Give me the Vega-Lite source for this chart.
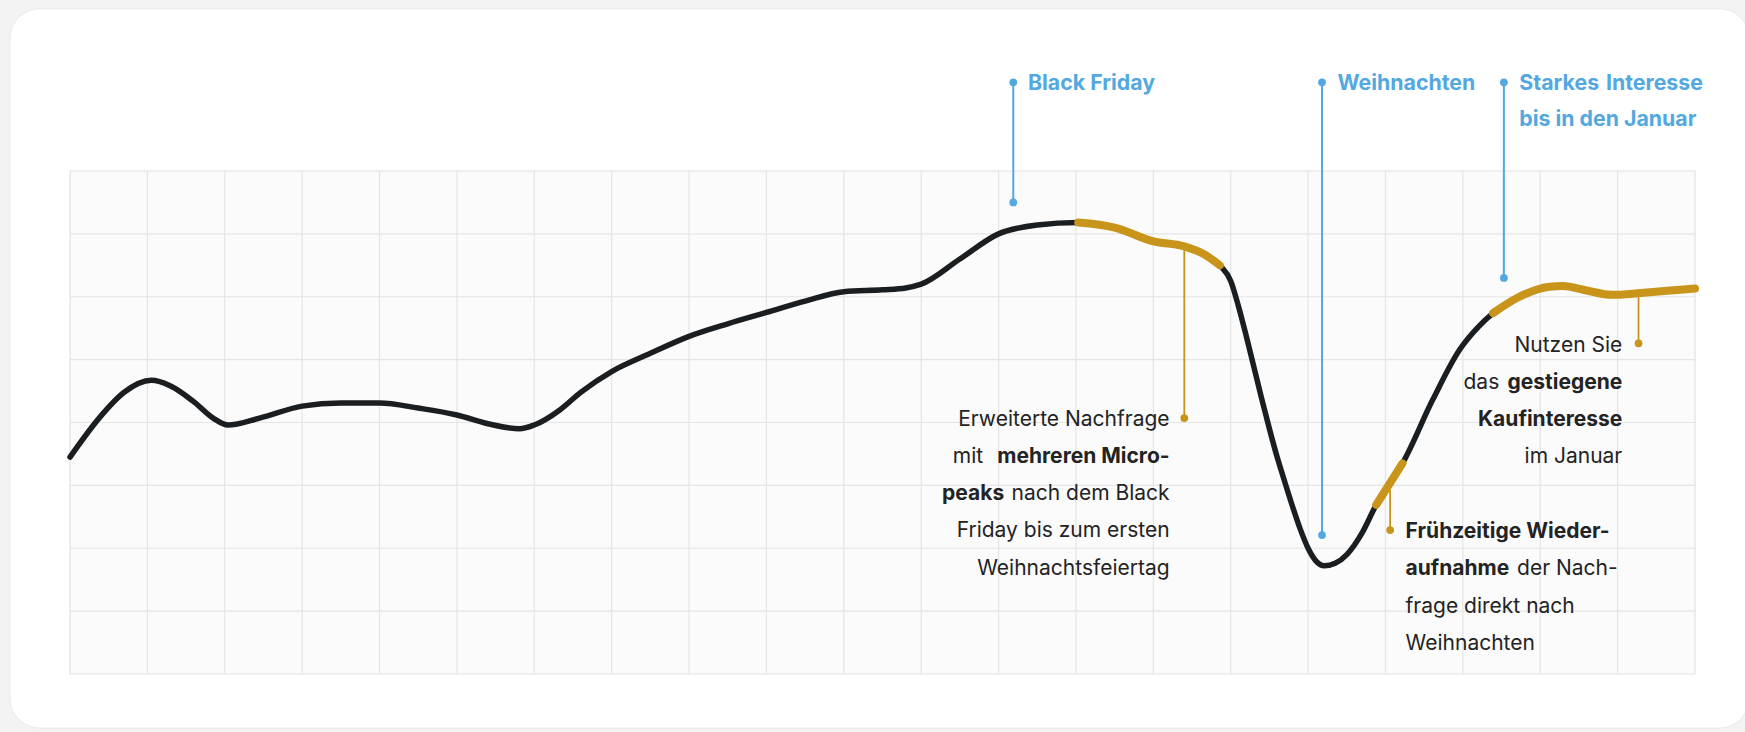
{
  "$schema": "https://vega.github.io/schema/vega-lite/v6.json",
  "width": 1625,
  "height": 503,
  "autosize": "none",
  "padding": {"left": 70, "top": 171, "right": 50, "bottom": 58},
  "background": "#f3f3f3",
  "config": {"view": {"stroke": null}, "font": "Inter"},
  "datasets": {
    "curve": [
      {"t": 0.0, "v": 3.45, "phase": null},
      {"t": 0.39, "v": 4.09, "phase": null},
      {"t": 0.7, "v": 4.48, "phase": null},
      {"t": 1.05, "v": 4.67, "phase": null},
      {"t": 1.3, "v": 4.58, "phase": null},
      {"t": 1.59, "v": 4.34, "phase": null},
      {"t": 1.85, "v": 4.07, "phase": null},
      {"t": 2.04, "v": 3.96, "phase": null},
      {"t": 2.45, "v": 4.07, "phase": null},
      {"t": 3.0, "v": 4.26, "phase": null},
      {"t": 3.5, "v": 4.31, "phase": null},
      {"t": 4.0, "v": 4.31, "phase": null},
      {"t": 4.5, "v": 4.23, "phase": null},
      {"t": 5.0, "v": 4.12, "phase": null},
      {"t": 5.4, "v": 3.98, "phase": null},
      {"t": 5.81, "v": 3.9, "phase": null},
      {"t": 6.0, "v": 3.96, "phase": null},
      {"t": 6.33, "v": 4.2, "phase": null},
      {"t": 6.6, "v": 4.48, "phase": null},
      {"t": 7.0, "v": 4.81, "phase": null},
      {"t": 7.5, "v": 5.1, "phase": null},
      {"t": 8.0, "v": 5.37, "phase": null},
      {"t": 8.5, "v": 5.57, "phase": null},
      {"t": 9.0, "v": 5.75, "phase": null},
      {"t": 9.5, "v": 5.93, "phase": null},
      {"t": 10.0, "v": 6.08, "phase": null},
      {"t": 10.5, "v": 6.11, "phase": null},
      {"t": 10.8, "v": 6.14, "phase": null},
      {"t": 11.0, "v": 6.2, "phase": null},
      {"t": 11.5, "v": 6.6, "phase": null},
      {"t": 12.0, "v": 7.0, "phase": null},
      {"t": 12.5, "v": 7.14, "phase": null},
      {"t": 13.03, "v": 7.18, "phase": "nachfrage"},
      {"t": 13.5, "v": 7.1, "phase": "nachfrage"},
      {"t": 14.0, "v": 6.88, "phase": "nachfrage"},
      {"t": 14.4, "v": 6.8, "phase": "nachfrage"},
      {"t": 14.65, "v": 6.68, "phase": "nachfrage"},
      {"t": 14.86, "v": 6.5, "phase": "nachfrage"},
      {"t": 15.0, "v": 6.25, "phase": null},
      {"t": 15.1, "v": 5.85, "phase": null},
      {"t": 15.2, "v": 5.38, "phase": null},
      {"t": 15.3, "v": 4.88, "phase": null},
      {"t": 15.4, "v": 4.38, "phase": null},
      {"t": 15.5, "v": 3.9, "phase": null},
      {"t": 15.6, "v": 3.45, "phase": null},
      {"t": 15.7, "v": 3.05, "phase": null},
      {"t": 15.8, "v": 2.66, "phase": null},
      {"t": 15.9, "v": 2.3, "phase": null},
      {"t": 16.0, "v": 2.0, "phase": null},
      {"t": 16.1, "v": 1.8, "phase": null},
      {"t": 16.21, "v": 1.72, "phase": null},
      {"t": 16.35, "v": 1.76, "phase": null},
      {"t": 16.5, "v": 1.9, "phase": null},
      {"t": 16.7, "v": 2.25, "phase": null},
      {"t": 16.88, "v": 2.69, "phase": "wiederaufnahme"},
      {"t": 17.05, "v": 3.02, "phase": "wiederaufnahme"},
      {"t": 17.22, "v": 3.35, "phase": "wiederaufnahme"},
      {"t": 17.61, "v": 4.36, "phase": null},
      {"t": 17.96, "v": 5.16, "phase": null},
      {"t": 18.2, "v": 5.52, "phase": null},
      {"t": 18.39, "v": 5.74, "phase": "januar"},
      {"t": 18.7, "v": 5.98, "phase": "januar"},
      {"t": 19.12, "v": 6.16, "phase": "januar"},
      {"t": 19.29, "v": 6.17, "phase": "januar"},
      {"t": 19.6, "v": 6.1, "phase": "januar"},
      {"t": 19.92, "v": 6.03, "phase": "januar"},
      {"t": 20.3, "v": 6.06, "phase": "januar"},
      {"t": 20.6, "v": 6.09, "phase": "januar"},
      {"t": 21.0, "v": 6.13, "phase": "januar"}
    ],
    "cols": [{"t": 1}, {"t": 2}, {"t": 3}, {"t": 4}, {"t": 5}, {"t": 6}, {"t": 7}, {"t": 8}, {"t": 9}, {"t": 10}, {"t": 11}, {"t": 12}, {"t": 13}, {"t": 14}, {"t": 15}, {"t": 16}, {"t": 17}, {"t": 18}, {"t": 19}, {"t": 20}],
    "rows": [{"v": 1}, {"v": 2}, {"v": 3}, {"v": 4}, {"v": 5}, {"v": 6}, {"v": 7}],
    "events": [
      {"event": "Black Friday", "t": 12.19, "top": 9.41, "end": 7.5},
      {"event": "Weihnachten", "t": 16.18, "top": 9.41, "end": 2.21},
      {"event": "Starkes Interesse bis in den Januar", "t": 18.53, "top": 9.41, "end": 6.3}
    ],
    "eventLabels": [
      {"text": "Black Friday", "t": 12.38, "v": 9.29},
      {"text": "Weihnachten", "t": 16.38, "v": 9.29},
      {"text": "Starkes", "t": 18.73, "v": 9.29},
      {"text": "Interesse", "t": 19.85, "v": 9.29},
      {"text": "bis in den Januar", "t": 18.73, "v": 8.71}
    ],
    "callouts": [
      {"phase": "nachfrage", "t": 14.4, "from": 6.8, "to": 4.07},
      {"phase": "wiederaufnahme", "t": 17.06, "from": 2.93, "to": 2.29},
      {"phase": "januar", "t": 20.27, "from": 6.07, "to": 5.26}
    ],
    "notes": [
      {"text": "Erweiterte Nachfrage", "t": 14.21, "v": 3.946, "kind": "plain", "anchor": "end"},
      {"text": "mit", "t": 11.8, "v": 3.357, "kind": "plain", "anchor": "end"},
      {"text": "mehreren Micro-", "t": 14.21, "v": 3.357, "kind": "strong", "anchor": "end"},
      {"text": "peaks", "t": 11.27, "v": 2.768, "kind": "strong", "anchor": "start"},
      {"text": "nach dem Black", "t": 14.21, "v": 2.768, "kind": "plain", "anchor": "end"},
      {"text": "Friday bis zum ersten", "t": 14.21, "v": 2.18, "kind": "plain", "anchor": "end"},
      {"text": "Weihnachtsfeiertag", "t": 14.21, "v": 1.575, "kind": "plain", "anchor": "end"},
      {"text": "Nutzen Sie", "t": 20.06, "v": 5.128, "kind": "plain", "anchor": "end"},
      {"text": "das", "t": 18.47, "v": 4.53, "kind": "plain", "anchor": "end"},
      {"text": "gestiegene", "t": 20.06, "v": 4.53, "kind": "strong", "anchor": "end"},
      {"text": "Kaufinteresse", "t": 20.06, "v": 3.946, "kind": "strong", "anchor": "end"},
      {"text": "im Januar", "t": 20.06, "v": 3.35, "kind": "plain", "anchor": "end"},
      {"text": "Frühzeitige Wieder-", "t": 17.26, "v": 2.159, "kind": "strong", "anchor": "start"},
      {"text": "aufnahme", "t": 17.26, "v": 1.575, "kind": "strong", "anchor": "start"},
      {"text": "der Nach-", "t": 18.7, "v": 1.575, "kind": "plain", "anchor": "start"},
      {"text": "frage direkt nach", "t": 17.26, "v": 0.966, "kind": "plain", "anchor": "start"},
      {"text": "Weihnachten", "t": 17.26, "v": 0.382, "kind": "plain", "anchor": "start"}
    ]
  },
  "layer": [
    {
      "data": {"values": [{}]},
      "mark": {"type": "rect", "fill": "#ffffff", "stroke": "#e9e9e9", "strokeWidth": 1, "cornerRadius": 30},
      "encoding": {
        "x": {"datum": -0.776, "type": "quantitative", "scale": {"domain": [0, 21], "nice": false, "zero": false}, "axis": null},
        "x2": {"datum": 21.7},
        "y": {"datum": -0.86, "type": "quantitative", "scale": {"domain": [0, 8], "nice": false, "zero": false}, "axis": null},
        "y2": {"datum": 10.58}
      }
    },
    {
      "data": {"values": [{}]},
      "mark": {"type": "rect", "fill": "#fbfbfb", "stroke": "#e2e2e2", "strokeWidth": 1.2},
      "encoding": {
        "x": {"datum": 0, "type": "quantitative"},
        "x2": {"datum": 21},
        "y": {"datum": 0, "type": "quantitative"},
        "y2": {"datum": 8}
      }
    },
    {
      "data": {"name": "cols"},
      "mark": {"type": "rule", "color": "#e5e5e5", "strokeWidth": 1.2},
      "encoding": {"x": {"field": "t", "type": "quantitative"}}
    },
    {
      "data": {"name": "rows"},
      "mark": {"type": "rule", "color": "#e5e5e5", "strokeWidth": 1.2},
      "encoding": {"y": {"field": "v", "type": "quantitative"}}
    },
    {
      "data": {"name": "events"},
      "mark": {"type": "rule", "color": "#52a8df", "strokeWidth": 2},
      "encoding": {
        "x": {"field": "t", "type": "quantitative"},
        "y": {"field": "top", "type": "quantitative"},
        "y2": {"field": "end"}
      }
    },
    {
      "data": {"name": "callouts"},
      "mark": {"type": "rule", "color": "#c8951a", "strokeWidth": 1.8},
      "encoding": {
        "x": {"field": "t", "type": "quantitative"},
        "y": {"field": "from", "type": "quantitative"},
        "y2": {"field": "to"}
      }
    },
    {
      "data": {"name": "curve"},
      "mark": {"type": "line", "interpolate": "monotone", "color": "#1b1e21", "strokeWidth": 5.5, "strokeCap": "round"},
      "encoding": {
        "x": {"field": "t", "type": "quantitative"},
        "y": {"field": "v", "type": "quantitative"}
      }
    },
    {
      "data": {"name": "curve"},
      "transform": [{"filter": "datum.phase != null"}],
      "mark": {"type": "line", "interpolate": "monotone", "color": "#c8951a", "strokeWidth": 8, "strokeCap": "round"},
      "encoding": {
        "x": {"field": "t", "type": "quantitative"},
        "y": {"field": "v", "type": "quantitative"},
        "detail": {"field": "phase"}
      }
    },
    {
      "data": {"name": "events"},
      "mark": {"type": "circle", "color": "#52a8df", "size": 60, "opacity": 1},
      "encoding": {
        "x": {"field": "t", "type": "quantitative"},
        "y": {"field": "top", "type": "quantitative"}
      }
    },
    {
      "data": {"name": "events"},
      "mark": {"type": "circle", "color": "#52a8df", "size": 60, "opacity": 1},
      "encoding": {
        "x": {"field": "t", "type": "quantitative"},
        "y": {"field": "end", "type": "quantitative"}
      }
    },
    {
      "data": {"name": "callouts"},
      "mark": {"type": "circle", "color": "#c8951a", "size": 60, "opacity": 1},
      "encoding": {
        "x": {"field": "t", "type": "quantitative"},
        "y": {"field": "to", "type": "quantitative"}
      }
    },
    {
      "data": {"name": "eventLabels"},
      "mark": {"type": "text", "align": "left", "baseline": "alphabetic", "font": "Inter", "fontSize": 21.3, "fontWeight": 700, "color": "#52a8df"},
      "encoding": {
        "x": {"field": "t", "type": "quantitative"},
        "y": {"field": "v", "type": "quantitative"},
        "text": {"field": "text"}
      }
    },
    {
      "data": {"name": "notes"},
      "transform": [{"filter": "datum.kind === 'plain' && datum.anchor === 'end'"}],
      "mark": {"type": "text", "align": "right", "baseline": "alphabetic", "font": "Inter", "fontSize": 21, "fontWeight": 400, "color": "#232323"},
      "encoding": {
        "x": {"field": "t", "type": "quantitative"},
        "y": {"field": "v", "type": "quantitative"},
        "text": {"field": "text"}
      }
    },
    {
      "data": {"name": "notes"},
      "transform": [{"filter": "datum.kind === 'strong' && datum.anchor === 'end'"}],
      "mark": {"type": "text", "align": "right", "baseline": "alphabetic", "font": "Inter", "fontSize": 21, "fontWeight": 700, "color": "#232323"},
      "encoding": {
        "x": {"field": "t", "type": "quantitative"},
        "y": {"field": "v", "type": "quantitative"},
        "text": {"field": "text"}
      }
    },
    {
      "data": {"name": "notes"},
      "transform": [{"filter": "datum.kind === 'plain' && datum.anchor === 'start'"}],
      "mark": {"type": "text", "align": "left", "baseline": "alphabetic", "font": "Inter", "fontSize": 21, "fontWeight": 400, "color": "#232323"},
      "encoding": {
        "x": {"field": "t", "type": "quantitative"},
        "y": {"field": "v", "type": "quantitative"},
        "text": {"field": "text"}
      }
    },
    {
      "data": {"name": "notes"},
      "transform": [{"filter": "datum.kind === 'strong' && datum.anchor === 'start'"}],
      "mark": {"type": "text", "align": "left", "baseline": "alphabetic", "font": "Inter", "fontSize": 21, "fontWeight": 700, "color": "#232323"},
      "encoding": {
        "x": {"field": "t", "type": "quantitative"},
        "y": {"field": "v", "type": "quantitative"},
        "text": {"field": "text"}
      }
    }
  ]
}
